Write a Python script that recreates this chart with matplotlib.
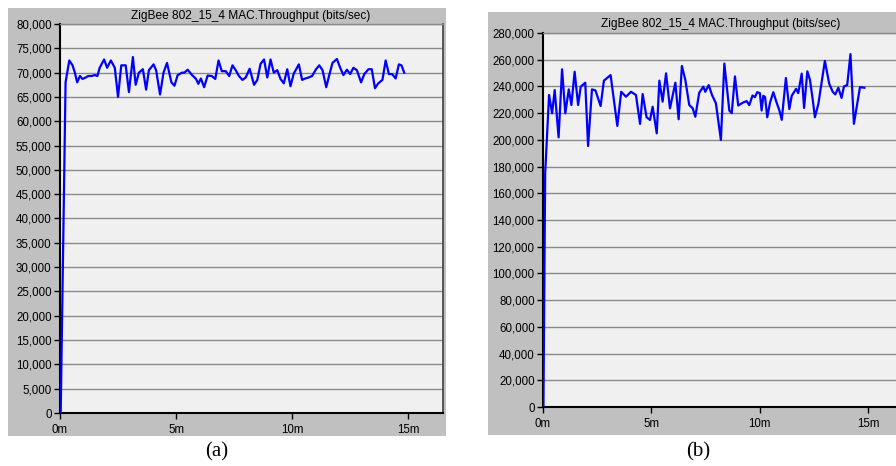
import matplotlib
matplotlib.use("Agg")
import matplotlib.pyplot as plt
from matplotlib.patches import Rectangle
from matplotlib.ticker import FuncFormatter

# Throughput traces (time in minutes, throughput in bits/sec)
time_a = [0.03, 0.24, 0.40, 0.54, 0.64, 0.74, 0.86, 0.97, 1.11, 1.21, 1.36, 1.50, 1.61, 1.71,
          1.90, 2.03, 2.19, 2.36, 2.50, 2.64, 2.83, 2.97, 3.14, 3.26, 3.40, 3.57, 3.71, 3.83,
          4.03, 4.14, 4.31, 4.46, 4.61, 4.80, 4.93, 5.07, 5.26, 5.36, 5.50, 5.69, 5.86, 5.96,
          6.07, 6.21, 6.36, 6.54, 6.69, 6.83, 6.97, 7.14, 7.29, 7.43, 7.57, 7.71, 7.86, 8.00,
          8.17, 8.36, 8.50, 8.64, 8.79, 8.93, 9.07, 9.21, 9.36, 9.50, 9.64, 9.79, 9.93, 10.07,
          10.29, 10.43, 10.57, 10.71, 10.86, 11.03, 11.17, 11.31, 11.47, 11.60, 11.74, 11.93,
          12.07, 12.21, 12.36, 12.50, 12.64, 12.79, 12.97, 13.11, 13.29, 13.43, 13.57, 13.71,
          13.89, 14.03, 14.17, 14.31, 14.46, 14.60, 14.71, 14.83]
thr_a = [0, 68000, 72500, 71500, 70000, 68000, 69300, 68700, 69000, 69300, 69300, 69500, 69300,
         71000, 72700, 71000, 72500, 71000, 65000, 71500, 71500, 66000, 73200, 67500, 70000,
         70700, 66500, 70500, 71700, 70500, 65500, 70000, 72000, 68000, 67300, 69500, 70000,
         70000, 70600, 69500, 68700, 67700, 68800, 67000, 69400, 69300, 68700, 72500, 70300,
         70300, 69300, 71500, 70500, 69300, 68500, 69000, 70800, 67500, 68500, 71800, 72700,
         69000, 72700, 70000, 70500, 68700, 67800, 70700, 67200, 69800, 71700, 68500, 68800,
         69000, 69300, 70700, 71500, 70500, 67000, 69500, 72000, 72800, 71000, 69500, 70600,
         69700, 71000, 70500, 68000, 69700, 70700, 70700, 66800, 67800, 68500, 72500, 69700,
         69700, 68800, 71700, 71500, 70000]

time_b = [0.02, 0.10, 0.28, 0.42, 0.54, 0.72, 0.88, 1.03, 1.19, 1.31, 1.46, 1.62, 1.74, 1.95,
          2.08, 2.26, 2.42, 2.66, 2.81, 3.12, 3.43, 3.61, 3.83, 4.06, 4.29, 4.48, 4.60, 4.78,
          4.94, 5.06, 5.25, 5.37, 5.52, 5.68, 5.86, 6.11, 6.26, 6.41, 6.57, 6.75, 6.91, 7.03,
          7.21, 7.40, 7.49, 7.65, 7.80, 7.98, 8.21, 8.37, 8.60, 8.71, 8.86, 9.01, 9.24, 9.40,
          9.52, 9.67, 9.78, 9.89, 10.01, 10.09, 10.17, 10.25, 10.35, 10.48, 10.63, 10.78, 10.91,
          11.02, 11.21, 11.37, 11.48, 11.68, 11.78, 11.94, 12.05, 12.20, 12.32, 12.45, 12.55,
          12.71, 13.01, 13.21, 13.37, 13.49, 13.63, 13.78, 13.89, 14.04, 14.19, 14.35, 14.63,
          14.83]
thr_b = [0, 175000, 233600, 219900, 237300, 201900, 252800, 219900, 237800, 226100, 251000,
         226100, 239800, 242800, 195400, 237800, 237000, 225300, 244300, 248500, 210400, 236000,
         232300, 236000, 233600, 211900, 234300, 216900, 214900, 224800, 204900, 244300, 228600,
         249800, 223600, 242800, 215400, 255300, 244800, 226100, 223600, 217300, 235300, 239800,
         236000, 241000, 233600, 227400, 199900, 257100, 221900, 220000, 247500, 225700, 228000,
         229000, 226000, 233200, 232000, 235700, 235000, 222000, 233000, 232000, 216900, 228000,
         235700, 228000, 222000, 215000, 246300, 223100, 233000, 238200, 235000, 249600, 223900,
         251300, 245000, 230000, 216900, 227000, 259100, 242000, 236000, 234000, 239000, 231400,
         240000, 241000, 264200, 212000, 239500, 239000]

x_ticks = [0, 5, 10, 15]
x_tick_labels = ["0m", "5m", "10m", "15m"]
yticks_a = list(range(0, 80001, 5000))
yticks_b = list(range(0, 280001, 20000))
title = "ZigBee 802_15_4 MAC.Throughput (bits/sec)"
panel_labels = ["(a)", "(b)"]

W, H = 896, 466
fig = plt.figure(figsize=(W / 100, H / 100), dpi=100)
fig.patch.set_facecolor("white")

SANS = "Liberation Sans"
SERIF = "Liberation Serif"
PANEL_BG = "#c0c0c0"
PLOT_BG = "#f0f0f0"
GRID = "#8a8a8a"


def px_rect(x0, y0, x1, y1):
    """Convert a pixel box (top-left origin) to figure fractions."""
    return [x0 / W, 1 - y1 / H, (x1 - x0) / W, (y1 - y0) / H]


def panel(bg_box, ax_box, times, values, yticks, ylim, title_xy, label_xy, label):
    bx = px_rect(*bg_box)
    fig.patches.append(Rectangle((bx[0], bx[1]), bx[2], bx[3], transform=fig.transFigure,
                                 facecolor=PANEL_BG, edgecolor="none", zorder=-5))
    ax = fig.add_axes(px_rect(*ax_box))
    ax.set_zorder(2)
    ax.set_facecolor(PLOT_BG)
    ax.plot(times, values, color="#0000ff", lw=1.6, solid_joinstyle="round", zorder=3)
    ax.set_xlim(0, 16.5)
    ax.set_ylim(*ylim)
    ax.set_yticks(yticks)
    ax.yaxis.set_major_formatter(FuncFormatter(lambda v, p: f"{int(v):,}"))
    ax.set_xticks(x_ticks)
    ax.set_xticklabels(x_tick_labels)
    ax.yaxis.grid(True, color=GRID, lw=1.0, zorder=1)
    ax.set_axisbelow(True)
    ax.tick_params(axis="both", length=4, width=1, color="black", labelsize=8.3,
                   labelcolor="black")
    ax.tick_params(axis="y", pad=2)
    ax.tick_params(axis="x", pad=4)
    for lab in ax.get_xticklabels() + ax.get_yticklabels():
        lab.set_family(SANS)
    ax.spines["left"].set_color("black")
    ax.spines["left"].set_linewidth(1.5)
    ax.spines["bottom"].set_color("black")
    ax.spines["bottom"].set_linewidth(1.5)
    ax.spines["right"].set_color("#404040")
    ax.spines["right"].set_linewidth(1.2)
    ax.spines["top"].set_color(GRID)
    ax.spines["top"].set_linewidth(1.0)
    fig.text(title_xy[0] / W, 1 - title_xy[1] / H, title, ha="center", va="center",
             family=SANS, fontsize=8.6, color="black", zorder=3)
    fig.text(label_xy[0] / W, 1 - label_xy[1] / H, label, ha="center", va="center",
             family=SERIF, fontsize=15, color="black", zorder=3)
    return ax


panel((8, 7.5, 446, 436), (60, 24, 443, 413), time_a, thr_a, yticks_a, (0, 80000),
      (251, 16), (217, 452), panel_labels[0])
panel((488, 12, 896, 435), (543, 33, 900.5, 407), time_b, thr_b, yticks_b, (0, 280000),
      (721, 24.5), (698, 452), panel_labels[1])

fig.savefig("out.png", dpi=100, facecolor="white")
